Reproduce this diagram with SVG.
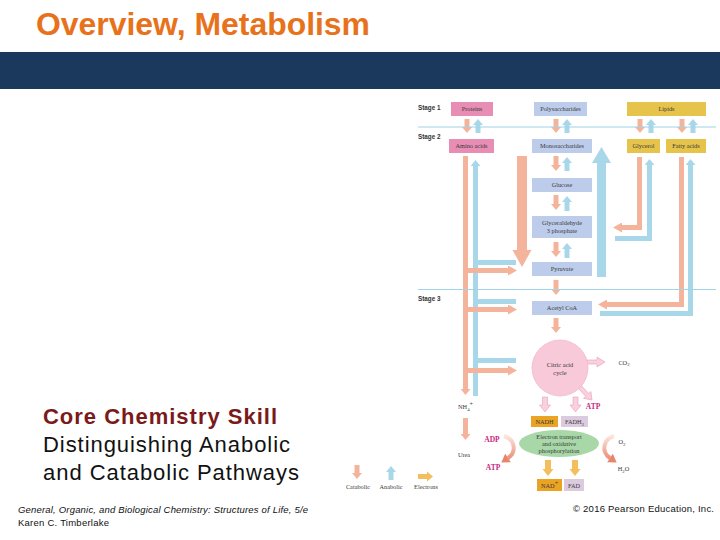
<svg xmlns="http://www.w3.org/2000/svg" width="720" height="540" viewBox="0 0 720 540">
<style>
.lbl{font-family:"Liberation Serif","Times New Roman",serif;font-size:6.3px;fill:#3a3a3a;text-anchor:middle}
.stg{font-family:"Liberation Sans",Arial,sans-serif;font-size:6.3px;font-weight:bold;fill:#333}
.mag{font-family:"Liberation Serif","Times New Roman",serif;font-size:7.5px;font-weight:bold;fill:#C8287E;text-anchor:middle}
.cat{fill:none;stroke:#F4B49B;stroke-width:5}
.ana{fill:none;stroke:#A9D7EA;stroke-width:5}
.catp{fill:#F4B49B}
.anap{fill:#A9D7EA}
.ho{fill:#F8D0DE;stroke:#E99BB9;stroke-width:0.6}
.yel{fill:#F2BE5E}
.stline{stroke:#A0D4E8;stroke-width:1.2}
.bpink{fill:#E88DB4}
.bblue{fill:#BDCCEA}
.bgold{fill:#E6C34A}
.sub{font-size:4.8px}
</style>
<defs>
<marker id="hp" viewBox="0 0 6 10" refX="0" refY="5" markerWidth="6" markerHeight="10" markerUnits="userSpaceOnUse" orient="auto"><path d="M0,0 L6,5 L0,10 z" fill="#F4B49B"/></marker>
<marker id="ha" viewBox="0 0 6 10" refX="0" refY="5" markerWidth="6" markerHeight="10" markerUnits="userSpaceOnUse" orient="auto"><path d="M0,0 L6,5 L0,10 z" fill="#A9D7EA"/></marker>
<marker id="hpl" viewBox="0 0 9 10" refX="0" refY="5" markerWidth="9" markerHeight="10" markerUnits="userSpaceOnUse" orient="auto"><path d="M0,0 L9,5 L0,10 z" fill="#F4B49B"/></marker>
<linearGradient id="gl" gradientUnits="userSpaceOnUse" x1="505" y1="436" x2="505" y2="462"><stop offset="0" stop-color="#FBE6DC"/><stop offset="1" stop-color="#E8846A"/></linearGradient>
<linearGradient id="gr" gradientUnits="userSpaceOnUse" x1="612" y1="436" x2="612" y2="462"><stop offset="0" stop-color="#FBE6DC"/><stop offset="1" stop-color="#E8846A"/></linearGradient>
</defs>

<rect x="0" y="0" width="720" height="540" fill="#ffffff"/>
<text x="36" y="35" font-family="'Liberation Sans',Arial,sans-serif" font-size="31" font-weight="bold" fill="#E8721C" textLength="334" lengthAdjust="spacingAndGlyphs">Overview, Metabolism</text>
<rect x="0" y="52" width="720" height="37" fill="#1B385D"/>

<g id="left-text" font-family="'Liberation Sans',Arial,sans-serif">
<text x="43" y="424" font-size="22" font-weight="bold" fill="#7A1A1A" textLength="234">Core Chemistry Skill</text>
<text x="43" y="452" font-size="22" fill="#111" textLength="247">Distinguishing Anabolic</text>
<text x="43" y="480" font-size="22" fill="#111" textLength="256">and Catabolic Pathways</text>
<text x="18" y="513" font-size="9.5" font-style="italic" fill="#111" textLength="290">General, Organic, and Biological Chemistry: Structures of Life, 5/e</text>
<text x="18" y="526" font-size="9.5" fill="#111" textLength="91">Karen C. Timberlake</text>
<text x="573" y="512" font-size="9.5" fill="#111" textLength="141">© 2016 Pearson Education, Inc.</text>
</g>

<g id="stage-labels">
<text class="stg" x="418" y="110">Stage 1</text>
<text class="stg" x="418" y="139">Stage 2</text>
<text class="stg" x="418" y="301">Stage 3</text>
</g>

<g id="connectors">
<path class="cat" d="M467,119 V127" marker-end="url(#hp)"/>
<path class="ana" d="M478,133 V125" marker-end="url(#ha)"/>
<path class="cat" d="M556,119 V127" marker-end="url(#hp)"/>
<path class="ana" d="M567,133 V125" marker-end="url(#ha)"/>
<path class="cat" d="M640,119 V127" marker-end="url(#hp)"/>
<path class="ana" d="M651,133 V125" marker-end="url(#ha)"/>
<path class="cat" d="M682,119 V127" marker-end="url(#hp)"/>
<path class="ana" d="M693,133 V125" marker-end="url(#ha)"/>
<path class="cat" d="M556,156 V165" marker-end="url(#hp)"/>
<path class="ana" d="M567,171 V163" marker-end="url(#ha)"/>
<path class="cat" d="M556,195 V204" marker-end="url(#hp)"/>
<path class="ana" d="M567,211 V202" marker-end="url(#ha)"/>
<path class="cat" d="M556,242 V251" marker-end="url(#hp)"/>
<path class="ana" d="M567,258 V249" marker-end="url(#ha)"/>
<path class="cat" d="M556,280 V289" marker-end="url(#hp)"/>
<path class="cat" d="M556,318 V327" marker-end="url(#hp)"/>
<path class="ana" d="M475.5,396 V166" marker-end="url(#ha)"/>
<path class="ana" d="M475.5,262.5 H516"/>
<path class="ana" d="M475.5,301.5 H516"/>
<path class="ana" d="M475.5,360.5 H516"/>
<path class="cat" d="M465.5,156 V389" marker-end="url(#hp)"/>
<path class="cat" d="M465.5,270.5 H508" marker-end="url(#hpl)"/>
<path class="cat" d="M465.5,309.5 H508" marker-end="url(#hpl)"/>
<path class="cat" d="M465.5,370.5 H508" marker-end="url(#hpl)"/>
<path class="cat" d="M465.5,418 V434" marker-end="url(#hp)"/>
<polygon class="catp" points="517,156 527,156 527,250 531.5,250 522,267 512.5,250 517,250"/>
<polygon class="anap" points="597,277 606,277 606,163 611,163 601.5,147 592,163 597,163"/>
<path class="ana" d="M615,238.5 H649.5 V165" marker-end="url(#ha)" stroke-linejoin="miter"/>
<path class="cat" d="M639.5,157 V227.5 H622" marker-end="url(#hpl)" stroke-linejoin="miter"/>
<path class="ana" d="M600,313.5 H690.5 V165" marker-end="url(#ha)" stroke-linejoin="miter"/>
<path class="cat" d="M681.5,157 V304.5 H607" marker-end="url(#hpl)" stroke-linejoin="miter"/>
<polygon class="ho" points="578.5,382.6 588.7,393.5 590.9,391.5 592,400 583.5,398.3 585.7,396.3 575.5,385.4"/>
<polygon class="ho" points="586,360 597,360 597,357 605,362 597,367 597,364 586,364"/>
<polygon class="ho" points="542.5,397 547.5,397 547.5,405 550.5,405 545,412 539.5,405 542.5,405"/>
<polygon class="ho" points="573,397 578,397 578,405 581,405 575.5,412 570,405 573,405"/>
<polygon class="yel" points="545,460 551,460 551,469 553.5,469 548,476 542.5,469 545,469"/>
<polygon class="yel" points="572,460 578,460 578,469 580.5,469 575,476 569.5,469 572,469"/>
<path d="M504,436 C515,439 517,452 508,458" fill="none" stroke="url(#gl)" stroke-width="4"/>
<polygon points="510.8,462.2 501.3,462.4 505.2,453.8" fill="#E8846A"/>
<path d="M614,436 C603,439 601,452 610,458" fill="none" stroke="url(#gr)" stroke-width="4"/>
<polygon points="607.2,462.2 616.7,462.4 612.8,453.8" fill="#E8846A"/>
</g>

<g id="stage-lines">
<line class="stline" x1="418" y1="127" x2="716" y2="127"/>
<line class="stline" x1="418" y1="289.5" x2="716" y2="289.5"/>
</g>

<g id="proteins"><rect class="bpink" x="451" y="102" width="42" height="14"/><text class="lbl" x="472" y="111.3">Proteins</text></g>
<g id="polysaccharides"><rect class="bblue" x="534" y="102" width="53" height="14"/><text class="lbl" x="560.5" y="111.3">Polysaccharides</text></g>
<g id="lipids"><rect class="bgold" x="627" y="102" width="79" height="14"/><text class="lbl" x="666.5" y="111.3">Lipids</text></g>
<g id="amino-acids"><rect class="bpink" x="449" y="139" width="45" height="14"/><text class="lbl" x="471.5" y="148.3">Amino acids</text></g>
<g id="monosaccharides"><rect class="bblue" x="532" y="139" width="60" height="14"/><text class="lbl" x="562" y="148.3">Monosaccharides</text></g>
<g id="glycerol"><rect class="bgold" x="627" y="139" width="33" height="14"/><text class="lbl" x="643.5" y="148.3">Glycerol</text></g>
<g id="fatty-acids"><rect class="bgold" x="666" y="139" width="40" height="14"/><text class="lbl" x="686" y="148.3">Fatty acids</text></g>
<g id="glucose"><rect class="bblue" x="532" y="178" width="60" height="14"/><text class="lbl" x="562" y="187.3">Glucose</text></g>
<g id="glyceraldehyde"><rect class="bblue" x="532" y="216" width="60" height="22"/><text class="lbl" x="562" y="225">Glyceraldehyde</text><text class="lbl" x="562" y="233">3 phosphate</text></g>
<g id="pyruvate"><rect class="bblue" x="532" y="262" width="60" height="14"/><text class="lbl" x="562" y="271.3">Pyruvate</text></g>
<g id="acetyl-coa"><rect class="bblue" x="532" y="301" width="60" height="14"/><text class="lbl" x="562" y="310.3">Acetyl CoA</text></g>
<g id="citric-acid-cycle"><circle cx="560" cy="368" r="28" fill="#F7C9D9" stroke="#EFAFC6" stroke-width="0.6"/><text class="lbl" x="560" y="367">Citric acid</text><text class="lbl" x="560" y="375">cycle</text></g>
<g id="co2"><text class="lbl" x="624" y="364.5">CO<tspan class="sub" dy="1.5">2</tspan></text></g>
<g id="atp-cycle"><text class="mag" x="593" y="408.5">ATP</text></g>
<g id="nh4"><text class="lbl" x="465.5" y="409">NH<tspan class="sub" dy="1.5">4</tspan><tspan font-size="6" dy="-4.5">+</tspan></text></g>
<g id="urea"><text class="lbl" x="464" y="457">Urea</text></g>
<g id="nadh"><rect x="531" y="416" width="27" height="11" fill="#EBA324"/><text class="lbl" x="544.5" y="424" font-size="7">NADH</text></g>
<g id="fadh2"><rect x="561" y="416" width="27" height="11" fill="#DCCBDF"/><text class="lbl" x="574.5" y="424" font-size="7">FADH<tspan font-size="5" dy="1.5">2</tspan></text></g>
<g id="electron-transport"><ellipse cx="559" cy="443.5" rx="40" ry="13.5" fill="#A9D8A8"/><text class="lbl" x="559" y="438.5">Electron transport</text><text class="lbl" x="559" y="445.5">and oxidative</text><text class="lbl" x="559" y="452.5">phosphorylation</text></g>
<g id="adp"><text class="mag" x="492" y="441.5">ADP</text></g>
<g id="atp-left"><text class="mag" x="493" y="469.5">ATP</text></g>
<g id="o2"><text class="lbl" x="622" y="444">O<tspan class="sub" dy="1.5">2</tspan></text></g>
<g id="h2o"><text class="lbl" x="623.5" y="471">H<tspan class="sub" dy="1.5">2</tspan><tspan dy="-1.5">O</tspan></text></g>
<g id="nad"><rect x="537" y="479" width="25" height="12" fill="#EBA324"/><text class="lbl" x="549.5" y="487.5" font-size="7">NAD<tspan font-size="6" dy="-3">+</tspan></text></g>
<g id="fad"><rect x="564" y="479" width="20" height="12" fill="#DCCBDF"/><text class="lbl" x="574" y="487.5" font-size="7">FAD</text></g>

<g id="legend">
<polygon class="catp" points="354.5,465 359.5,465 359.5,473 362,473 357,479 352,473 354.5,473"/>
<text class="lbl" x="358" y="488.5">Catabolic</text>
<polygon class="anap" points="388.5,480 393.5,480 393.5,472 396,472 391,466 386,472 388.5,472"/>
<text class="lbl" x="391" y="488.5">Anabolic</text>
<polygon class="yel" points="418,474 427,474 427,471.5 433,476.5 427,481.5 427,479 418,479"/>
<text class="lbl" x="426" y="488.5">Electrons</text>
</g>
</svg>
